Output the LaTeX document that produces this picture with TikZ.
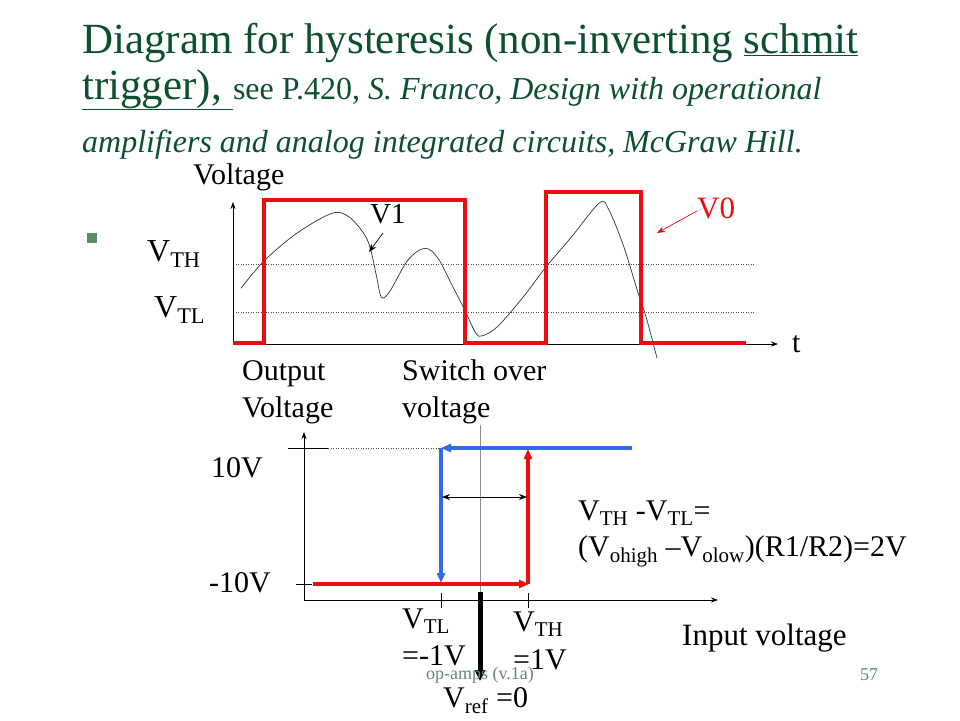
\documentclass[tikz,border=0pt]{standalone}
\usepackage{fontspec}
\setmainfont{Liberation Serif}
\usetikzlibrary{arrows.meta}
\definecolor{ttl}{RGB}{12,80,48}
\definecolor{bul}{RGB}{90,140,105}
\definecolor{ftr}{RGB}{95,140,110}
\definecolor{vred}{RGB}{235,12,12}
\definecolor{vblue}{RGB}{50,105,230}
\newcommand\sbs[1]{\textsubscript{#1}}
\tikzset{
  txt/.style={inner sep=0pt, anchor=base west, font=\fontsize{30}{34}\selectfont},
  axis/.style={line width=0.8pt, -{Stealth[length=7pt,width=5pt]}},
  dotln/.style={line width=0.5pt, dotted, black!70},
  wave/.style={vred, line width=4pt, line cap=butt, line join=miter},
  hyst/.style={line width=3.5pt, -{Triangle[length=10pt,width=8pt]}},
  thin/.style={line width=0.7pt},
}
\begin{document}
\begin{tikzpicture}[x=1pt,y=-1pt]
\useasboundingbox[fill=white] (0,0) rectangle (960,720);
% ---------- title ----------
\node[txt, text=ttl, font=\fontsize{43}{48}\selectfont] (t1) at (82,53)
  {Diagram for hysteresis (non-inverting \underline{schmit}};
\node[txt, text=ttl, font=\fontsize{43}{48}\selectfont] (t2a) at (82,99)
  {\underline{trigger),\ }};
\node[txt, text=ttl, font=\fontsize{32}{36}\selectfont, anchor=base west] (t2b) at (t2a.base east)
  {see P.420, \textit{S. Franco, Design with operational}};
\node[txt, text=ttl, font=\fontsize{32}{36}\selectfont\itshape] (t3) at (82,152)
  {amplifiers and analog integrated circuits, McGraw Hill.};
% bullet
\node[fill=bul, minimum size=10pt, inner sep=0pt] (bul) at (92,238) {};
% ---------- upper graph ----------
\coordinate (uo) at (233,344);
\coordinate (uy) at (233,202);
\coordinate (ux) at (778,344);
\draw[dotln] (233,264) -- (754,264);
\draw[dotln] (233,312) -- (754,312);
\draw[thin, black!80] plot[smooth, tension=0.55] coordinates {
 (240.9,288.3) (264,261) (296.7,233.3) (332,213.3) (348.7,216.7) (363.6,233.3)
 (370.3,248.3) (376.6,276.7) (381.4,297.3) (389.6,291.7) (408,260) (424.9,248.3)
 (438,258.3) (452.8,286.7) (464.7,310) (475,331.7) (481.4,336) (497.4,326.7)
 (523.4,296.7) (545.7,267.3) (571.7,236.7) (599.6,202.7) (608.9,210) (623.8,246.7)
 (638.7,295) (646,316.7) (657,358)};
\draw[axis] (uo) -- (uy);
\draw[axis] (uo) -- (ux);
\draw[wave] (233,343) -- (264,343) -- (264,200) -- (465,200) -- (465,343)
  -- (546,343) -- (546,192) -- (641,192) -- (641,343) -- (746,343);
\node[txt] (volt) at (193,184) {Voltage};
\node[txt, font=\fontsize{32}{36}\selectfont] (vth) at (147,261) {V\sbs{TH}};
\node[txt, font=\fontsize{32}{36}\selectfont] (vtl) at (154,317) {V\sbs{TL}};
\node[txt] (tt) at (792,352) {t};
\node[txt] (out1) at (242,380) {Output};
\node[txt] (out2) at (242,417) {Voltage};
\node[txt] (sw1) at (402,380) {Switch over};
\node[txt] (sw2) at (402,417) {voltage};
\node[txt, font=\fontsize{29}{32}\selectfont] (v1) at (370,223) {V1};
\coordinate (v1a) at (383,233);
\coordinate (v1b) at (369,252);
\draw[thin, -{Stealth[length=8pt,width=6pt]}] (v1a) -- (v1b);
\node[txt, text=vred, font=\fontsize{31}{34}\selectfont] (v0) at (697,218) {V0};
\coordinate (v0a) at (697,211);
\coordinate (v0b) at (657,233);
\draw[thin, vred, -{Stealth[length=8pt,width=6pt]}] (v0a) -- (v0b);
% ---------- lower graph ----------
\coordinate (lo) at (304,600);
\coordinate (ly) at (304,432);
\coordinate (lx) at (718,600);
\draw[line width=0.5pt, black!45] (480,425) -- (480,595);
\draw[axis] (lo) -- (ly);
\draw[axis] (lo) -- (lx);
\draw[thin] (288,448) -- (328,448);
\draw[dotln] (328,448) -- (441,448);
\draw[thin] (296,584) -- (312,584);
\draw[thin] (441,593) -- (441,608);
\draw[thin] (528,593) -- (528,608);
\coordinate (bl) at (632,448);
\coordinate (bc) at (441,448);
\coordinate (bd) at (441,584);
\coordinate (rl) at (313,584);
\coordinate (rc) at (528,584);
\coordinate (ru) at (528,449);
\draw[hyst, vblue] (bl) -- (bc);
\draw[hyst, vblue] (bc) -- ([yshift=1pt]bd);
\draw[hyst, vred] (rl) -- ([xshift=1pt]rc);
\draw[hyst, vred] (rc) -- (ru);
\coordinate (da) at (442,497);
\coordinate (db) at (527,497);
\draw[thin, {Stealth[length=8pt,width=6pt]}-{Stealth[length=8pt,width=6pt]}] (da) -- (db);
\coordinate (ra) at (480,592);
\coordinate (rb) at (480,681);
\draw[line width=5pt, -{Triangle[length=11pt,width=10pt]}] (ra) -- (rb);
\node[txt] (p10) at (211,477) {10V};
\node[txt] (m10) at (209,592) {-10V};
\node[txt] (eq1) at (578,520) {V\sbs{TH} -V\sbs{TL}=};
\node[txt] (eq2) at (578,556) {(V\sbs{ohigh} \textendash V\sbs{olow})(R1/R2)=2V};
\node[txt] (vtl2) at (402,628) {V\sbs{TL}};
\node[txt] (vtl3) at (402,665) {=-1V};
\node[txt] (vth2) at (513,631) {V\sbs{TH}};
\node[txt] (vth3) at (513,669) {=1V};
\node[txt] (vref) at (443,707) {V\sbs{ref} =0};
\node[txt, font=\fontsize{31}{34}\selectfont] (inp) at (682,645) {Input voltage};
\node[txt, text=ftr, font=\fontsize{18}{20}\selectfont, anchor=base] (ftl) at (480,679) {op-amps (v.1a)};
\node[txt, text=ftr, font=\fontsize{18}{20}\selectfont] (pg) at (860,680) {57};
\end{tikzpicture}
\end{document}
